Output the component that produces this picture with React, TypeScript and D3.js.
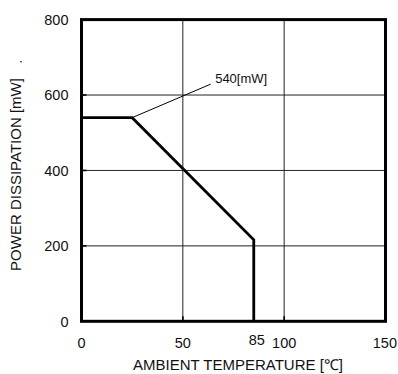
import React from "react";
import * as d3 from "d3";

const xTicks = [0, 50, 100, 150];
const yTicks = [0, 200, 400, 600, 800];
const xGrid = [50, 100];
const yGrid = [200, 400, 600];
const curveTemp = [0, 25, 85, 85];
const curvePower = [540, 540, 216, 0];
const annoTemp = 25;
const annoPower = 540;
const annoLabel = "540[mW]";
const specialTick = 85;
const xTitle = "AMBIENT TEMPERATURE [℃]";
const yTitle = "POWER DISSIPATION [mW]";

const W = 398;
const H = 374;
const FONT = "'Liberation Sans', Arial, sans-serif";

export default function App() {
  const x = d3.scaleLinear().domain([0, 150]).range([81.5, 385.5]);
  const y = d3.scaleLinear().domain([0, 800]).range([321.3, 19.6]);
  const pts: [number, number][] = curveTemp.map((t, i) => [t, curvePower[i]]);
  const line = d3
    .line<[number, number]>()
    .x((d) => x(d[0]))
    .y((d) => y(d[1]));
  const kx = x(annoTemp);
  const ky = y(annoPower);
  return (
    <svg
      width={W}
      height={H}
      style={{ position: "absolute", left: 0, top: 0, background: "#fff" }}
      fontFamily={FONT}
    >
      <rect x={0} y={0} width={W} height={H} fill="#fff" />
      {/* grid */}
      {xGrid.map((v) => (
        <line key={"gx" + v} x1={x(v)} x2={x(v)} y1={y(0)} y2={y(800)} stroke="#222" strokeWidth={1} />
      ))}
      {yGrid.map((v) => (
        <line key={"gy" + v} x1={x(0)} x2={x(150)} y1={y(v)} y2={y(v)} stroke="#222" strokeWidth={1} />
      ))}
      {/* inward ticks */}
      {yTicks.map((v) => (
        <line key={"ty" + v} x1={x(0)} x2={x(0) + 5} y1={y(v)} y2={y(v)} stroke="#000" strokeWidth={1.6} />
      ))}
      {xTicks.map((v) => (
        <line key={"tx" + v} x1={x(v)} x2={x(v)} y1={y(0)} y2={y(0) - 5} stroke="#000" strokeWidth={1.6} />
      ))}
      {/* frame */}
      <rect
        x={x(0)}
        y={y(800)}
        width={x(150) - x(0)}
        height={y(0) - y(800)}
        fill="none"
        stroke="#000"
        strokeWidth={3}
      />
      {/* derating curve */}
      <path d={line(pts) || ""} fill="none" stroke="#000" strokeWidth={2.8} strokeLinejoin="miter" />
      {/* annotation */}
      <line x1={kx} y1={ky} x2={kx + 78.5} y2={ky - 33.5} stroke="#000" strokeWidth={1} />
      <text x={kx + 83} y={ky - 34.5} fontSize={13} fill="#111">
        {annoLabel}
      </text>
      {/* y tick labels */}
      {yTicks.map((v) => (
        <text
          key={"ly" + v}
          x={68.5}
          y={y(v)}
          dy="0.36em"
          textAnchor="end"
          fontSize={14.5}
          fill="#111"
        >
          {v}
        </text>
      ))}
      {/* x tick labels */}
      {xTicks.map((v) => (
        <text
          key={"lx" + v}
          x={v === 150 ? 397 : x(v)}
          y={348}
          textAnchor={v === 150 ? "end" : "middle"}
          fontSize={14.5}
          fill="#111"
        >
          {v}
        </text>
      ))}
      <text x={x(specialTick) + 3} y={345} textAnchor="middle" fontSize={14.5} fill="#111">
        {specialTick}
      </text>
      {/* axis titles */}
      <text x={238} y={369.5} textAnchor="middle" fontSize={15} fill="#111">
        {xTitle}
      </text>
      <text
        transform={`translate(20.5,174.5) rotate(-90)`}
        textAnchor="middle"
        fontSize={15}
        fill="#111"
      >
        {yTitle}
      </text>
      <circle cx={21} cy={61.7} r={0.8} fill="#000" />
    </svg>
  );
}
